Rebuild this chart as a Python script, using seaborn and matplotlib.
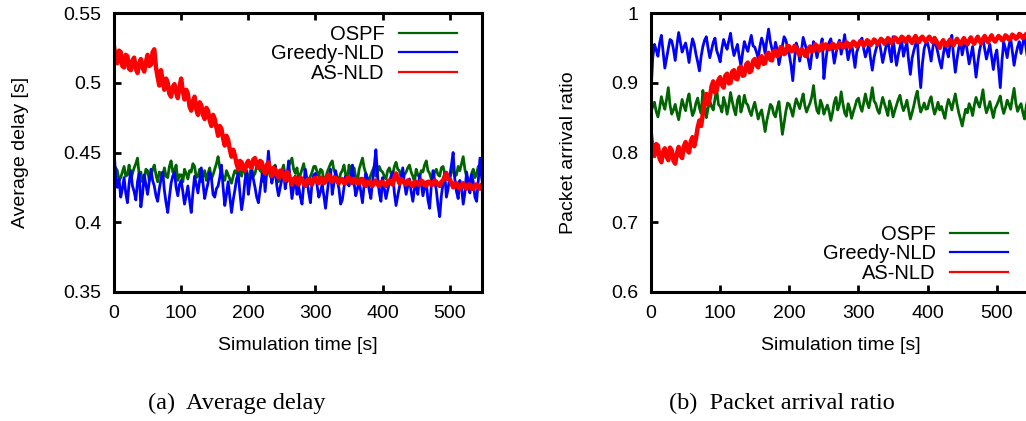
import numpy as np
import pandas as pd
import seaborn as sns
import matplotlib
matplotlib.use("Agg")
import matplotlib.pyplot as plt
from matplotlib.lines import Line2D

# ---------------- data (sampled every 2.5 s) ----------------
time_s = [i * 2.5 for i in range(221)]
algorithms = ["OSPF", "Greedy-NLD", "AS-NLD"]
colors = {"OSPF": "#006400", "Greedy-NLD": "#0000ff", "AS-NLD": "#ff0000"}

delay_ospf = [
    0.428, 0.439, 0.437, 0.430, 0.432, 0.436, 0.440, 0.433, 0.434, 0.441, 0.430, 0.435, 0.439, 0.442, 0.446, 0.434, 0.436, 0.429, 0.431, 0.438,
    0.437, 0.430, 0.433, 0.438, 0.441, 0.434, 0.429, 0.436, 0.435, 0.431, 0.439, 0.433, 0.432, 0.440, 0.444, 0.436, 0.437, 0.441, 0.430, 0.434,
    0.434, 0.429, 0.438, 0.435, 0.431, 0.437, 0.436, 0.442, 0.440, 0.432, 0.433, 0.438, 0.429, 0.433, 0.437, 0.430, 0.435, 0.439, 0.431, 0.434,
    0.438, 0.442, 0.447, 0.439, 0.436, 0.432, 0.430, 0.437, 0.434, 0.431, 0.428, 0.433, 0.437, 0.435, 0.441, 0.436, 0.433, 0.440, 0.436, 0.431,
    0.431, 0.436, 0.439, 0.433, 0.435, 0.440, 0.443, 0.437, 0.436, 0.429, 0.432, 0.437, 0.438, 0.433, 0.434, 0.439, 0.441, 0.435, 0.429, 0.434,
    0.437, 0.441, 0.433, 0.429, 0.440, 0.443, 0.446, 0.438, 0.435, 0.439, 0.431, 0.434, 0.438, 0.442, 0.434, 0.431, 0.429, 0.433, 0.436, 0.440,
    0.440, 0.436, 0.433, 0.438, 0.437, 0.430, 0.431, 0.436, 0.439, 0.442, 0.444, 0.437, 0.435, 0.432, 0.430, 0.435, 0.437, 0.441, 0.434, 0.430,
    0.441, 0.435, 0.436, 0.439, 0.432, 0.429, 0.438, 0.442, 0.446, 0.439, 0.435, 0.431, 0.430, 0.434, 0.437, 0.440, 0.433, 0.436, 0.440, 0.437,
    0.436, 0.433, 0.431, 0.437, 0.439, 0.435, 0.434, 0.440, 0.443, 0.438, 0.437, 0.432, 0.430, 0.434, 0.436, 0.439, 0.441, 0.436, 0.433, 0.429,
    0.438, 0.434, 0.432, 0.437, 0.436, 0.441, 0.444, 0.437, 0.435, 0.431, 0.430, 0.436, 0.438, 0.434, 0.433, 0.439, 0.440, 0.435, 0.436, 0.432,
    0.431, 0.436, 0.439, 0.433, 0.434, 0.440, 0.437, 0.442, 0.447, 0.438, 0.433, 0.430, 0.429, 0.435, 0.438, 0.432, 0.435, 0.440, 0.441, 0.434, 0.437,
]
delay_greedy = [
    0.452, 0.433, 0.425, 0.431, 0.418, 0.424, 0.432, 0.421, 0.414, 0.428, 0.437, 0.426, 0.422, 0.416, 0.429, 0.435, 0.411, 0.420, 0.434, 0.427,
    0.420, 0.429, 0.438, 0.430, 0.426, 0.419, 0.415, 0.424, 0.431, 0.436, 0.423, 0.414, 0.407, 0.418, 0.428, 0.433, 0.436, 0.425, 0.419, 0.427,
    0.430, 0.422, 0.413, 0.419, 0.426, 0.416, 0.407, 0.421, 0.433, 0.427, 0.421, 0.430, 0.439, 0.428, 0.417, 0.423, 0.428, 0.436, 0.432, 0.420,
    0.418, 0.424, 0.426, 0.432, 0.441, 0.425, 0.412, 0.420, 0.429, 0.418, 0.407, 0.416, 0.423, 0.431, 0.435, 0.421, 0.409, 0.417, 0.430, 0.437,
    0.420, 0.429, 0.437, 0.431, 0.425, 0.418, 0.414, 0.423, 0.432, 0.440, 0.422, 0.436, 0.451, 0.437, 0.428, 0.433, 0.440, 0.426, 0.419, 0.425,
    0.431, 0.437, 0.424, 0.432, 0.444, 0.429, 0.417, 0.425, 0.433, 0.420, 0.426, 0.418, 0.413, 0.427, 0.438, 0.430, 0.421, 0.414, 0.429, 0.434,
    0.435, 0.426, 0.418, 0.422, 0.427, 0.419, 0.410, 0.421, 0.431, 0.438, 0.420, 0.428, 0.437, 0.430, 0.424, 0.413, 0.416, 0.425, 0.433, 0.428,
    0.426, 0.433, 0.441, 0.428, 0.419, 0.424, 0.430, 0.422, 0.414, 0.427, 0.435, 0.431, 0.423, 0.417, 0.429, 0.440, 0.452, 0.433, 0.421, 0.415,
    0.432, 0.424, 0.417, 0.423, 0.428, 0.433, 0.436, 0.421, 0.412, 0.419, 0.425, 0.432, 0.439, 0.428, 0.420, 0.426, 0.431, 0.422, 0.415, 0.424,
    0.427, 0.420, 0.434, 0.428, 0.419, 0.425, 0.429, 0.416, 0.410, 0.426, 0.437, 0.430, 0.423, 0.412, 0.404, 0.419, 0.428, 0.435, 0.418, 0.424,
    0.433, 0.441, 0.450, 0.431, 0.422, 0.417, 0.430, 0.425, 0.413, 0.421, 0.436, 0.429, 0.421, 0.434, 0.429, 0.418, 0.415, 0.430, 0.446, 0.432, 0.424,
]
delay_asnld = [
    0.526, 0.517, 0.514, 0.523, 0.522, 0.512, 0.511, 0.520, 0.519, 0.510, 0.509, 0.516, 0.518, 0.510, 0.507, 0.514, 0.517, 0.511, 0.508, 0.515,
    0.520, 0.512, 0.513, 0.522, 0.524, 0.511, 0.504, 0.498, 0.509, 0.501, 0.495, 0.503, 0.500, 0.492, 0.490, 0.497, 0.499, 0.493, 0.489, 0.497,
    0.503, 0.494, 0.488, 0.495, 0.492, 0.483, 0.480, 0.487, 0.490, 0.481, 0.477, 0.486, 0.484, 0.477, 0.474, 0.482, 0.480, 0.473, 0.469, 0.477,
    0.474, 0.468, 0.462, 0.469, 0.467, 0.460, 0.455, 0.462, 0.459, 0.452, 0.447, 0.452, 0.448, 0.442, 0.438, 0.444, 0.443, 0.438, 0.437, 0.442,
    0.444, 0.440, 0.439, 0.445, 0.446, 0.441, 0.439, 0.444, 0.443, 0.437, 0.435, 0.441, 0.443, 0.437, 0.433, 0.439, 0.438, 0.434, 0.432, 0.437,
    0.437, 0.433, 0.430, 0.436, 0.435, 0.430, 0.427, 0.431, 0.432, 0.428, 0.427, 0.432, 0.431, 0.428, 0.426, 0.430, 0.431, 0.428, 0.427, 0.431,
    0.432, 0.429, 0.428, 0.432, 0.431, 0.428, 0.429, 0.433, 0.434, 0.430, 0.429, 0.432, 0.432, 0.429, 0.428, 0.431, 0.431, 0.428, 0.428, 0.432,
    0.432, 0.429, 0.428, 0.431, 0.431, 0.428, 0.428, 0.431, 0.431, 0.427, 0.426, 0.429, 0.429, 0.427, 0.426, 0.429, 0.430, 0.427, 0.426, 0.429,
    0.429, 0.427, 0.426, 0.429, 0.430, 0.428, 0.427, 0.432, 0.435, 0.431, 0.428, 0.431, 0.430, 0.428, 0.427, 0.430, 0.429, 0.427, 0.426, 0.429,
    0.429, 0.427, 0.427, 0.430, 0.429, 0.427, 0.426, 0.429, 0.429, 0.427, 0.427, 0.430, 0.429, 0.427, 0.426, 0.429, 0.430, 0.433, 0.435, 0.431,
    0.431, 0.428, 0.425, 0.428, 0.428, 0.425, 0.424, 0.427, 0.428, 0.425, 0.424, 0.427, 0.427, 0.424, 0.424, 0.427, 0.427, 0.425, 0.424, 0.427, 0.427,
]

ratio_ospf = [
    0.858, 0.866, 0.872, 0.859, 0.851, 0.864, 0.880, 0.870, 0.862, 0.876, 0.893, 0.868, 0.855, 0.861, 0.869, 0.857, 0.847, 0.862, 0.876, 0.867,
    0.860, 0.875, 0.884, 0.866, 0.853, 0.859, 0.871, 0.878, 0.864, 0.856, 0.889, 0.872, 0.850, 0.863, 0.874, 0.866, 0.861, 0.877, 0.891, 0.869,
    0.866, 0.858, 0.879, 0.870, 0.855, 0.868, 0.886, 0.873, 0.862, 0.854, 0.875, 0.881, 0.858, 0.867, 0.882, 0.871, 0.868, 0.859, 0.853, 0.864,
    0.872, 0.860, 0.848, 0.856, 0.861, 0.845, 0.830, 0.846, 0.857, 0.869, 0.866, 0.855, 0.851, 0.864, 0.873, 0.849, 0.826, 0.843, 0.859, 0.871,
    0.869, 0.861, 0.852, 0.866, 0.877, 0.870, 0.863, 0.874, 0.884, 0.867, 0.858, 0.865, 0.871, 0.880, 0.896, 0.873, 0.860, 0.856, 0.875, 0.868,
    0.855, 0.862, 0.868, 0.859, 0.846, 0.857, 0.872, 0.879, 0.861, 0.869, 0.887, 0.870, 0.857, 0.852, 0.870, 0.863, 0.849, 0.858, 0.866, 0.875,
    0.878, 0.866, 0.859, 0.871, 0.884, 0.872, 0.864, 0.877, 0.893, 0.874, 0.870, 0.861, 0.856, 0.868, 0.879, 0.870, 0.862, 0.853, 0.874, 0.865,
    0.851, 0.860, 0.868, 0.876, 0.882, 0.869, 0.860, 0.866, 0.875, 0.861, 0.848, 0.857, 0.867, 0.879, 0.888, 0.870, 0.858, 0.864, 0.871, 0.862,
    0.863, 0.874, 0.880, 0.866, 0.855, 0.862, 0.872, 0.861, 0.866, 0.857, 0.849, 0.865, 0.876, 0.870, 0.861, 0.873, 0.884, 0.869, 0.857, 0.848,
    0.838, 0.851, 0.862, 0.857, 0.870, 0.864, 0.853, 0.868, 0.879, 0.871, 0.865, 0.876, 0.890, 0.869, 0.857, 0.864, 0.873, 0.861, 0.850, 0.863,
    0.868, 0.874, 0.881, 0.866, 0.856, 0.864, 0.875, 0.869, 0.862, 0.878, 0.892, 0.871, 0.859, 0.865, 0.870, 0.858, 0.848, 0.866, 0.877, 0.869, 0.864,
]
ratio_greedy = [
    0.885, 0.936, 0.955, 0.947, 0.938, 0.957, 0.968, 0.944, 0.921, 0.935, 0.949, 0.962, 0.960, 0.948, 0.932, 0.954, 0.972, 0.958, 0.944, 0.951,
    0.957, 0.945, 0.929, 0.948, 0.963, 0.955, 0.941, 0.930, 0.917, 0.938, 0.952, 0.961, 0.966, 0.950, 0.936, 0.947, 0.958, 0.964, 0.946, 0.939,
    0.930, 0.949, 0.962, 0.954, 0.948, 0.960, 0.971, 0.952, 0.939, 0.947, 0.955, 0.938, 0.924, 0.943, 0.959, 0.951, 0.945, 0.957, 0.968, 0.953,
    0.951, 0.944, 0.935, 0.952, 0.964, 0.956, 0.942, 0.961, 0.977, 0.959, 0.948, 0.940, 0.958, 0.947, 0.926, 0.939, 0.953, 0.966, 0.961, 0.950,
    0.940, 0.925, 0.903, 0.934, 0.957, 0.949, 0.931, 0.945, 0.965, 0.956, 0.947, 0.933, 0.920, 0.941, 0.959, 0.950, 0.936, 0.948, 0.952, 0.963,
    0.906, 0.930, 0.949, 0.958, 0.963, 0.947, 0.928, 0.942, 0.955, 0.961, 0.941, 0.953, 0.969, 0.950, 0.933, 0.946, 0.957, 0.939, 0.922, 0.944,
    0.951, 0.958, 0.964, 0.949, 0.937, 0.946, 0.955, 0.934, 0.918, 0.936, 0.947, 0.955, 0.960, 0.945, 0.929, 0.941, 0.953, 0.962, 0.944, 0.930,
    0.966, 0.943, 0.925, 0.940, 0.951, 0.960, 0.938, 0.949, 0.958, 0.932, 0.912, 0.935, 0.946, 0.955, 0.963, 0.921, 0.893, 0.928, 0.949, 0.957,
    0.957, 0.946, 0.931, 0.950, 0.965, 0.953, 0.942, 0.930, 0.921, 0.940, 0.954, 0.947, 0.937, 0.955, 0.968, 0.938, 0.915, 0.934, 0.950, 0.959,
    0.940, 0.953, 0.961, 0.944, 0.927, 0.939, 0.952, 0.931, 0.908, 0.929, 0.946, 0.957, 0.963, 0.948, 0.934, 0.945, 0.955, 0.937, 0.919, 0.938,
    0.947, 0.921, 0.893, 0.932, 0.958, 0.949, 0.936, 0.953, 0.964, 0.944, 0.925, 0.940, 0.951, 0.959, 0.942, 0.956, 0.967, 0.948, 0.930, 0.944, 0.955,
]
ratio_asnld = [
    0.825, 0.802, 0.795, 0.812, 0.810, 0.791, 0.786, 0.801, 0.806, 0.794, 0.789, 0.807, 0.803, 0.788, 0.784, 0.799, 0.808, 0.796, 0.792, 0.809,
    0.815, 0.803, 0.800, 0.816, 0.822, 0.809, 0.820, 0.836, 0.846, 0.838, 0.855, 0.873, 0.884, 0.869, 0.878, 0.895, 0.902, 0.886, 0.889, 0.904,
    0.908, 0.897, 0.893, 0.910, 0.913, 0.899, 0.900, 0.916, 0.918, 0.906, 0.905, 0.921, 0.923, 0.910, 0.911, 0.926, 0.929, 0.915, 0.917, 0.931,
    0.934, 0.925, 0.922, 0.936, 0.938, 0.927, 0.928, 0.941, 0.943, 0.933, 0.932, 0.945, 0.946, 0.938, 0.940, 0.951, 0.950, 0.941, 0.943, 0.953,
    0.952, 0.945, 0.946, 0.953, 0.950, 0.943, 0.940, 0.948, 0.946, 0.939, 0.938, 0.949, 0.952, 0.945, 0.946, 0.955, 0.953, 0.946, 0.947, 0.955,
    0.949, 0.955, 0.953, 0.948, 0.950, 0.956, 0.954, 0.949, 0.951, 0.957, 0.955, 0.950, 0.952, 0.958, 0.956, 0.951, 0.954, 0.959, 0.957, 0.952,
    0.955, 0.960, 0.958, 0.953, 0.956, 0.961, 0.959, 0.954, 0.957, 0.962, 0.960, 0.955, 0.958, 0.963, 0.961, 0.956, 0.959, 0.964, 0.962, 0.957,
    0.960, 0.965, 0.963, 0.958, 0.961, 0.966, 0.964, 0.959, 0.962, 0.966, 0.960, 0.957, 0.963, 0.967, 0.961, 0.958, 0.964, 0.966, 0.962, 0.959,
    0.963, 0.966, 0.961, 0.958, 0.964, 0.960, 0.955, 0.950, 0.957, 0.961, 0.956, 0.953, 0.958, 0.962, 0.957, 0.954, 0.959, 0.963, 0.958, 0.955,
    0.960, 0.964, 0.958, 0.955, 0.961, 0.965, 0.959, 0.956, 0.962, 0.966, 0.960, 0.957, 0.963, 0.967, 0.961, 0.958, 0.964, 0.968, 0.962, 0.959,
    0.963, 0.967, 0.965, 0.961, 0.962, 0.968, 0.966, 0.962, 0.964, 0.969, 0.967, 0.963, 0.965, 0.970, 0.968, 0.964, 0.966, 0.970, 0.967, 0.964, 0.969,
]

delay_ticks = [0.35, 0.4, 0.45, 0.5, 0.55]
delay_tick_labels = ["0.35", "0.4", "0.45", "0.5", "0.55"]
ratio_ticks = [0.6, 0.7, 0.8, 0.9, 1.0]
ratio_tick_labels = ["0.6", "0.7", "0.8", "0.9", "1"]
time_ticks = [0, 100, 200, 300, 400, 500]

# ---------------- build tables ----------------
def long_table(series):
    frames = []
    for alg, vals in zip(algorithms, series):
        frames.append(pd.DataFrame({"time": time_s, "value": vals, "alg": alg}))
    return pd.concat(frames, ignore_index=True)

df_delay = long_table([delay_ospf, delay_greedy, delay_asnld])
df_ratio = long_table([ratio_ospf, ratio_greedy, ratio_asnld])

# ---------------- figure ----------------
plt.rcParams["font.family"] = ["Liberation Sans", "DejaVu Sans"]
W, H = 1026, 421
fig = plt.figure(figsize=(W / 100, H / 100), dpi=100)

ax1 = fig.add_axes([114 / W, (H - 292) / H, 368 / W, 279 / H])
ax2 = fig.add_axes([651 / W, (H - 292) / H, 379 / W, 279 / H])

lws = {"OSPF": 2.0, "Greedy-NLD": 2.0, "AS-NLD": 3.2}

def draw(ax, df, ylim, yticks, yticklabels, ylabel, ylabel_x):
    for alg in algorithms:
        sub = df[df["alg"] == alg]
        sns.lineplot(data=sub, x="time", y="value", color=colors[alg],
                     linewidth=lws[alg], ax=ax, estimator=None, sort=False,
                     legend=False)
    ax.set_xlim(0, 548)
    ax.set_ylim(*ylim)
    ax.set_xticks(time_ticks)
    ax.set_xticklabels([str(t) for t in time_ticks])
    ax.set_yticks(yticks)
    ax.set_yticklabels(yticklabels)
    ax.tick_params(axis="both", which="major", direction="in", length=5,
                   width=2, labelsize=14, pad=9, top=True, right=False,
                   colors="black")
    for sp in ax.spines.values():
        sp.set_linewidth(2.2)
        sp.set_color("black")
    ax.set_xlabel("Simulation time [s]", fontsize=14)
    ax.set_ylabel(ylabel, fontsize=14)
    ax.xaxis.set_label_coords(0.5, -0.16)
    ax.xaxis.label.set_va("top")
    ax.yaxis.set_label_coords(ylabel_x, 0.5)
    ax.set_facecolor("white")

draw(ax1, df_delay, (0.35, 0.55), delay_ticks, delay_tick_labels,
     "Average delay [s]", -0.232)
draw(ax2, df_ratio, (0.6, 1.0), ratio_ticks, ratio_tick_labels,
     "Packet arrival ratio", -0.195)

handles = [Line2D([], [], color=colors[a], linewidth=1.6) for a in algorithms]
leg_kw = dict(markerfirst=False, frameon=False, fontsize=14.5, handlelength=2.9,
              handletextpad=0.7, labelspacing=0.03, borderpad=0,
              borderaxespad=0)
ax1.legend(handles, algorithms, loc="upper right",
           bbox_to_anchor=(0.932, 0.958), **leg_kw)
ax2.legend(handles, algorithms, loc="lower right",
           bbox_to_anchor=(0.942, 0.032), **leg_kw)

cap_font = ["Liberation Serif", "DejaVu Serif"]
fig.text(237 / W, (H - 403) / H, "(a)  Average delay", ha="center",
         va="center", fontsize=17.5, family=cap_font)
fig.text(782 / W, (H - 403) / H, "(b)  Packet arrival ratio", ha="center",
         va="center", fontsize=17.5, family=cap_font)

fig.savefig("out.png", dpi=100, facecolor="white")
